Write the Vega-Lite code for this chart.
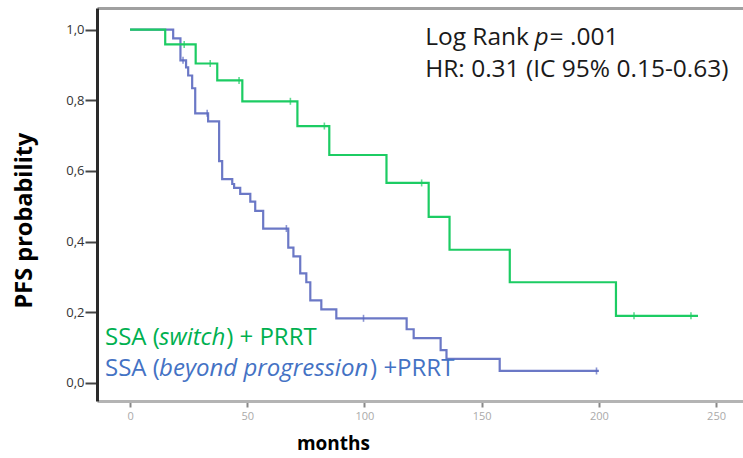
{
  "$schema": "https://vega.github.io/schema/vega-lite/v6.json",
  "width": 646,
  "height": 393,
  "autosize": "none",
  "padding": {"left": 97, "top": 8, "right": 0, "bottom": 57},
  "background": "white",
  "config": {"view": {"stroke": null}, "font": "Open Sans"},
  "datasets": {
    "curves": [
      {"group": "beyond", "month": 0, "surv": 1.0},
      {"group": "beyond", "month": 18.4, "surv": 0.975},
      {"group": "beyond", "month": 21.5, "surv": 0.913},
      {"group": "beyond", "month": 23.9, "surv": 0.893},
      {"group": "beyond", "month": 24.8, "surv": 0.87},
      {"group": "beyond", "month": 26.5, "surv": 0.834},
      {"group": "beyond", "month": 27.8, "surv": 0.763},
      {"group": "beyond", "month": 33.3, "surv": 0.74},
      {"group": "beyond", "month": 38.0, "surv": 0.628},
      {"group": "beyond", "month": 39.3, "surv": 0.577},
      {"group": "beyond", "month": 43.6, "surv": 0.563},
      {"group": "beyond", "month": 44.4, "surv": 0.552},
      {"group": "beyond", "month": 47.0, "surv": 0.535},
      {"group": "beyond", "month": 51.3, "surv": 0.513},
      {"group": "beyond", "month": 53.4, "surv": 0.487},
      {"group": "beyond", "month": 56.8, "surv": 0.437},
      {"group": "beyond", "month": 67.5, "surv": 0.383},
      {"group": "beyond", "month": 69.7, "surv": 0.358},
      {"group": "beyond", "month": 72.6, "surv": 0.31},
      {"group": "beyond", "month": 75.2, "surv": 0.285},
      {"group": "beyond", "month": 76.9, "surv": 0.234},
      {"group": "beyond", "month": 81.6, "surv": 0.208},
      {"group": "beyond", "month": 88.0, "surv": 0.183},
      {"group": "beyond", "month": 118.0, "surv": 0.152},
      {"group": "beyond", "month": 121.0, "surv": 0.127},
      {"group": "beyond", "month": 132.5, "surv": 0.093},
      {"group": "beyond", "month": 135.0, "surv": 0.068},
      {"group": "beyond", "month": 157.7, "surv": 0.034},
      {"group": "beyond", "month": 200.0, "surv": 0.034},
      {"group": "switch", "month": 0, "surv": 1.0},
      {"group": "switch", "month": 15.0, "surv": 0.958},
      {"group": "switch", "month": 28.0, "surv": 0.904},
      {"group": "switch", "month": 37.2, "surv": 0.856},
      {"group": "switch", "month": 47.9, "surv": 0.797},
      {"group": "switch", "month": 71.4, "surv": 0.727},
      {"group": "switch", "month": 85.0, "surv": 0.645},
      {"group": "switch", "month": 109.4, "surv": 0.566},
      {"group": "switch", "month": 127.4, "surv": 0.47},
      {"group": "switch", "month": 136.3, "surv": 0.377},
      {"group": "switch", "month": 162.0, "surv": 0.285},
      {"group": "switch", "month": 207.3, "surv": 0.19},
      {"group": "switch", "month": 242.3, "surv": 0.19}
    ],
    "censors": [
      {"group": "beyond", "month": 22.6, "surv": 0.913},
      {"group": "beyond", "month": 32.9, "surv": 0.763},
      {"group": "beyond", "month": 66.7, "surv": 0.437},
      {"group": "beyond", "month": 99.6, "surv": 0.183},
      {"group": "beyond", "month": 199.0, "surv": 0.034},
      {"group": "switch", "month": 23.1, "surv": 0.958},
      {"group": "switch", "month": 34.2, "surv": 0.904},
      {"group": "switch", "month": 46.5, "surv": 0.856},
      {"group": "switch", "month": 68.4, "surv": 0.797},
      {"group": "switch", "month": 82.9, "surv": 0.727},
      {"group": "switch", "month": 124.4, "surv": 0.566},
      {"group": "switch", "month": 215.0, "surv": 0.19},
      {"group": "switch", "month": 239.3, "surv": 0.19}
    ]
  },
  "layer": [
    {
      "data": {"name": "curves"},
      "transform": [{"filter": "datum.group === 'beyond'"}],
      "mark": {"type": "line", "interpolate": "step-after", "strokeWidth": 2.2, "color": "#6b78c6"},
      "encoding": {
        "x": {
          "field": "month", "type": "quantitative",
          "scale": {"domain": [-14.1, 261.5], "nice": false, "zero": false},
          "axis": {
            "orient": "bottom", "values": [0, 50, 100, 150, 200, 250],
            "title": "months", "titleFontSize": 19, "titleFontWeight": "bold", "titleColor": "#000",
            "titleX": 236, "titleY": 42, "titleBaseline": "middle", "titleAlign": "center",
            "domainColor": "#b4b4b4", "domainWidth": 3,
            "tickColor": "#888", "tickWidth": 2, "tickSize": 6,
            "labelFontSize": 11, "labelColor": "#aaa", "labelPadding": 3, "grid": false
          }
        },
        "y": {
          "field": "surv", "type": "quantitative",
          "scale": {"domain": [-0.051, 1.061], "nice": false, "zero": false},
          "axis": {
            "values": [0, 0.2, 0.4, 0.6, 0.8, 1.0],
            "labelExpr": "replace(format(datum.value, '.1f'), '.', ',')",
            "title": "PFS probability", "titleFontSize": 23.5, "titleFontWeight": "bold", "titleColor": "#000",
            "titleX": -73, "titleY": 212, "titleAngle": -90, "titleAlign": "center", "titleBaseline": "middle",
            "domainColor": "#2a2a2a", "domainWidth": 3,
            "tickColor": "#444", "tickWidth": 2, "tickSize": 12,
            "labelFontSize": 13, "labelColor": "#333", "labelPadding": 1, "grid": false
          }
        }
      }
    },
    {
      "data": {"name": "curves"},
      "transform": [{"filter": "datum.group === 'switch'"}],
      "mark": {"type": "line", "interpolate": "step-after", "strokeWidth": 2.2, "color": "#1ccc63"},
      "encoding": {
        "x": {
          "field": "month", "type": "quantitative",
          "axis": {"orient": "top", "labels": false, "ticks": false, "title": null, "domainColor": "#a0a0a0", "domainWidth": 3, "grid": false}
        },
        "y": {"field": "surv", "type": "quantitative"}
      }
    },
    {
      "data": {"name": "censors"},
      "mark": {"type": "tick", "orient": "vertical", "size": 7, "thickness": 1.6},
      "encoding": {
        "x": {"field": "month", "type": "quantitative", "axis": null},
        "y": {"field": "surv", "type": "quantitative"},
        "color": {"field": "group", "type": "nominal", "scale": {"domain": ["beyond", "switch"], "range": ["#5a68c0", "#1ccc63"]}, "legend": null}
      }
    },
    {
      "data": {"values": [{"label": "Log Rank"}]},
      "mark": {"type": "text", "align": "left", "baseline": "middle", "fontSize": 24.5, "color": "#1a1a1a"},
      "encoding": {"x": {"datum": 125.9, "type": "quantitative", "axis": null}, "y": {"datum": 0.976, "type": "quantitative"}, "text": {"field": "label"}}
    },
    {
      "data": {"values": [{"label": "p"}]},
      "mark": {"type": "text", "align": "left", "baseline": "middle", "fontSize": 24.5, "fontStyle": "italic", "color": "#1a1a1a"},
      "encoding": {"x": {"datum": 172.6, "type": "quantitative", "axis": null}, "y": {"datum": 0.976, "type": "quantitative"}, "text": {"field": "label"}}
    },
    {
      "data": {"values": [{"label": "= .001"}]},
      "mark": {"type": "text", "align": "left", "baseline": "middle", "fontSize": 24.5, "color": "#1a1a1a"},
      "encoding": {"x": {"datum": 179.0, "type": "quantitative", "axis": null}, "y": {"datum": 0.976, "type": "quantitative"}, "text": {"field": "label"}}
    },
    {
      "data": {"values": [{"label": "HR: 0.31 (IC 95% 0.15-0.63)"}]},
      "mark": {"type": "text", "align": "left", "baseline": "middle", "fontSize": 24.5, "color": "#1a1a1a"},
      "encoding": {"x": {"datum": 125.9, "type": "quantitative", "axis": null}, "y": {"datum": 0.885, "type": "quantitative"}, "text": {"field": "label"}}
    },
    {
      "data": {"values": [{"label": "SSA ("}]},
      "mark": {"type": "text", "align": "left", "baseline": "middle", "fontSize": 24, "color": "#00b050"},
      "encoding": {"x": {"datum": -10.7, "type": "quantitative", "axis": null}, "y": {"datum": 0.126, "type": "quantitative"}, "text": {"field": "label"}}
    },
    {
      "data": {"values": [{"label": "switch"}]},
      "mark": {"type": "text", "align": "left", "baseline": "middle", "fontSize": 24, "fontStyle": "italic", "color": "#00b050"},
      "encoding": {"x": {"datum": 12.4, "type": "quantitative", "axis": null}, "y": {"datum": 0.126, "type": "quantitative"}, "text": {"field": "label"}}
    },
    {
      "data": {"values": [{"label": ") + PRRT"}]},
      "mark": {"type": "text", "align": "left", "baseline": "middle", "fontSize": 24, "color": "#00b050"},
      "encoding": {"x": {"datum": 41.0, "type": "quantitative", "axis": null}, "y": {"datum": 0.126, "type": "quantitative"}, "text": {"field": "label"}}
    },
    {
      "data": {"values": [{"label": "SSA ("}]},
      "mark": {"type": "text", "align": "left", "baseline": "middle", "fontSize": 24, "color": "#4472c4"},
      "encoding": {"x": {"datum": -10.7, "type": "quantitative", "axis": null}, "y": {"datum": 0.04, "type": "quantitative"}, "text": {"field": "label"}}
    },
    {
      "data": {"values": [{"label": "beyond progression"}]},
      "mark": {"type": "text", "align": "left", "baseline": "middle", "fontSize": 24, "fontStyle": "italic", "color": "#4472c4"},
      "encoding": {"x": {"datum": 12.4, "type": "quantitative", "axis": null}, "y": {"datum": 0.04, "type": "quantitative"}, "text": {"field": "label"}}
    },
    {
      "data": {"values": [{"label": ") +PRRT"}]},
      "mark": {"type": "text", "align": "left", "baseline": "middle", "fontSize": 24, "color": "#4472c4"},
      "encoding": {"x": {"datum": 102.4, "type": "quantitative", "axis": null}, "y": {"datum": 0.04, "type": "quantitative"}, "text": {"field": "label"}}
    }
  ],
  "resolve": {"axis": {"x": "independent"}}
}
